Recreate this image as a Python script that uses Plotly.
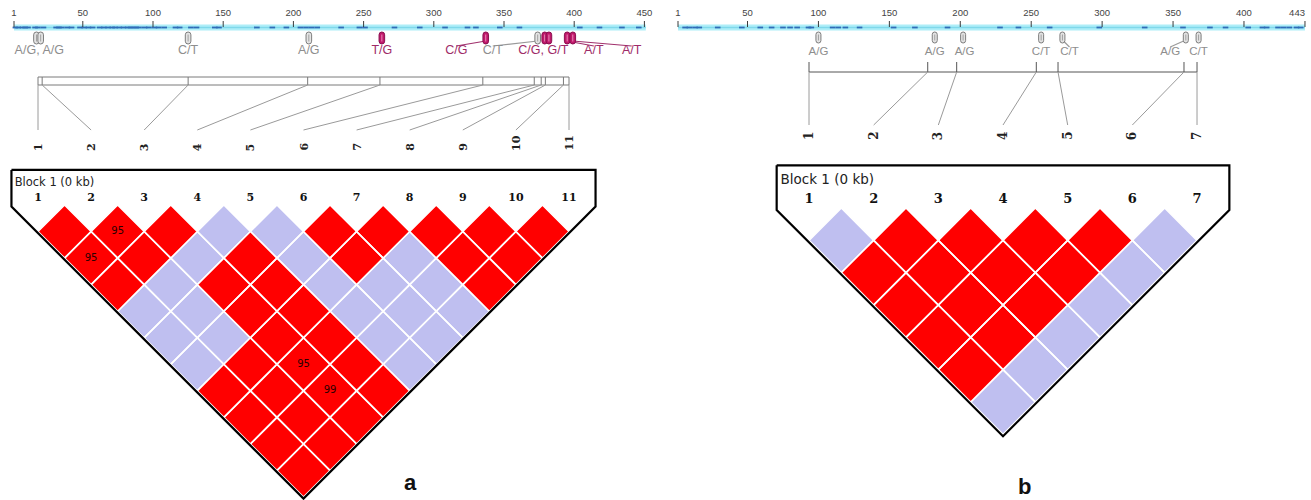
import plotly.graph_objects as go

W, H = 1311, 500

# ---------------- panel a: 11 SNPs ----------------
a_snp_bp = [17, 20, 125, 211, 263, 337, 374, 379, 382, 395, 399]
a_snp_kind = ["grey", "grey", "grey", "grey", "pink", "pink", "grey", "pink", "pink", "pink", "pink"]
a_allele_text = ["A/G, A/G", "C/T", "A/G", "T/G", "C/G", "C/T", "C/G, G/T", "A/T", "A/T"]
a_allele_kind = ["grey", "grey", "grey", "pink", "pink", "grey", "pink", "pink", "pink"]
a_allele_bp = [19, 125, 211, 263, 316, 342, 378, 414, 441]
a_allele_src = [None, None, None, None, 337, 374, None, 395, 399]
a_ruler_ticks = [1, 50, 100, 150, 200, 250, 300, 350, 400, 450]
a_ruler_end = 451
a_other_bp = [2, 4, 7, 9, 11, 16, 18, 22, 31, 33, 35, 39, 42, 48, 51, 54, 57, 62, 65, 68,
              71, 73, 76, 79, 82, 84, 86, 88, 90, 94, 97, 101, 104, 108, 116, 119, 127,
              131, 144, 147, 174, 185, 195, 205, 209, 213, 217, 234, 247, 251, 272, 290,
              308, 324, 330, 347, 361, 404, 418, 434, 446]
# 1 = strong LD (red), 0 = weak (lavender); row i holds pairs (i, i+1 .. n)
a_ld_strong = [
    [1, 1, 1, 0, 0, 0, 1, 1, 1, 1],
    [1, 1, 0, 0, 0, 1, 1, 1, 1],
    [1, 0, 1, 1, 1, 1, 1, 1],
    [0, 1, 1, 1, 1, 1, 1],
    [0, 0, 0, 0, 0, 0],
    [1, 1, 0, 0, 0],
    [1, 0, 0, 0],
    [1, 1, 1],
    [1, 1],
    [1],
]
a_dprime_pairs = [(1, 3), (2, 3), (3, 9), (3, 10)]
a_dprime_vals = [95, 95, 95, 99]

# ---------------- panel b: 7 SNPs ----------------
b_snp_bp = [100, 182, 202, 257, 272, 359, 368]
b_snp_kind = ["grey"] * 7
b_allele_text = ["A/G", "A/G", "A/G", "C/T", "C/T", "A/G", "C/T"]
b_allele_kind = ["grey"] * 7
b_allele_bp = [100, 182, 203, 257, 277, 348, 368]
b_allele_src = [None, None, None, None, 272, 359, None]
b_ruler_ticks = [1, 50, 100, 150, 200, 250, 300, 350, 400, 443]
b_ruler_end = 443
b_other_bp = [6, 9, 13, 16, 29, 46, 59, 67, 75, 80, 85, 93, 95, 110, 114, 119, 129, 153,
              168, 191, 228, 241, 263, 298, 330, 357, 376, 387, 403, 413, 416, 424, 428,
              432, 437, 440]
b_ld_strong = [
    [0, 1, 1, 1, 1, 0],
    [1, 1, 1, 1, 0],
    [1, 1, 1, 0],
    [1, 1, 0],
    [1, 0],
    [0],
]
b_dprime_pairs = []
b_dprime_vals = []

# ---------------- styling ----------------
RED = "#ff0000"
LAV = "#bfbff0"
GREY_TXT = "#8e8e8e"
PINK_TXT = "#9e2b68"
VARIANT_BLUE = "#2f6cb8"
GLYPH = {
    "grey": dict(fill="#e4e4e4", line="#7d7d7d", inner="#a0a0a0"),
    "pink": dict(fill="#c0186a", line="#8a1050", inner="#ec8dbb"),
}


def x_range(v, px, s):
    r0 = v - px / s
    return [r0, r0 + W / s]


def y_range(v, px, s):
    top = v - px / s
    return [top + H / s, top]


PANELS = [
    dict(name="a", n=11, snp_bp=a_snp_bp, snp_kind=a_snp_kind, allele_text=a_allele_text,
         allele_kind=a_allele_kind, allele_bp=a_allele_bp, allele_src=a_allele_src,
         ticks=a_ruler_ticks, ruler_end=a_ruler_end, other=a_other_bp, strong=a_ld_strong,
         dp_pairs=a_dprime_pairs, dp_vals=a_dprime_vals,
         xld="x", yld="y2", xr="x2",
         ld_x1=38, ld_step=53.1, ld_top=205, ruler_x1=14, ruler_scale=1.404,
         box=True, box_top=77, box_bot=85, conn_end=130, lab_bot=153,
         glyph_top=32, glyph_bot=44, glyph_w=2.8, allele_y=51, allele_size=12.5,
         num_size=11, rot_size=11, block_size=11.5, dp_size=10, letter_px=402, letter_y=482),
    dict(name="b", n=7, snp_bp=b_snp_bp, snp_kind=b_snp_kind, allele_text=b_allele_text,
         allele_kind=b_allele_kind, allele_bp=b_allele_bp, allele_src=b_allele_src,
         ticks=b_ruler_ticks, ruler_end=b_ruler_end, other=b_other_bp, strong=b_ld_strong,
         dp_pairs=b_dprime_pairs, dp_vals=b_dprime_vals,
         xld="x3", yld="y3", xr="x4",
         ld_x1=809, ld_step=64.67, ld_top=208, ruler_x1=678, ruler_scale=1.4185,
         box=False, box_top=62, box_bot=72, conn_end=125, lab_bot=142,
         glyph_top=32, glyph_bot=43, glyph_w=2.5, allele_y=52, allele_size=11.5,
         num_size=13, rot_size=12, block_size=13.5, dp_size=10, letter_px=1033, letter_y=486),
]

fig = go.Figure()
shapes = []
annotations = []

for p in PANELS:
    n = p["n"]
    xld, yld, xr = p["xld"], p["yld"], p["xr"]

    # ---- LD diamonds ----
    polys = {1: ([], []), 0: ([], [])}
    for i in range(1, n):
        for k, s in enumerate(p["strong"][i - 1]):
            j = i + 1 + k
            cx, cy = (i + j) / 2, (j - i) / 2
            xs, ys = polys[s]
            xs += [cx, cx + 0.5, cx, cx - 0.5, cx, None]
            ys += [cy - 0.5, cy, cy + 0.5, cy, cy - 0.5, None]
    for s, col in ((0, LAV), (1, RED)):
        xs, ys = polys[s]
        fig.add_trace(go.Scatter(x=xs, y=ys, mode="lines", fill="toself", fillcolor=col,
                                 line=dict(color="white", width=1.6),
                                 xaxis=xld, yaxis=yld, hoverinfo="skip"))

    # D' values inside diamonds
    if p["dp_pairs"]:
        fig.add_trace(go.Scatter(
            x=[(i + j) / 2 for i, j in p["dp_pairs"]],
            y=[(j - i) / 2 for i, j in p["dp_pairs"]],
            text=[str(v) for v in p["dp_vals"]], mode="text",
            textfont=dict(family="DejaVu Sans", size=p["dp_size"], color="#2a0000"),
            xaxis=xld, yaxis=yld, hoverinfo="skip"))

    # ---- block outline ----
    xl, xrr, top = 0.5, n + 0.5, -0.66
    off = 0.47
    apex_x, apex_y = (n + 1) / 2, (n + 1) / 2 - off
    fig.add_trace(go.Scatter(
        x=[xl, xrr, xrr, apex_x, xl, xl],
        y=[top, top, xl - off, apex_y, xl - off, top],
        mode="lines", line=dict(color="black", width=2.2),
        xaxis=xld, yaxis=yld, hoverinfo="skip"))

    # block title and marker numbers
    fig.add_trace(go.Scatter(
        x=[xl + 0.06], y=[-0.42], text=["Block 1 (0 kb)"], mode="text",
        textposition="middle right",
        textfont=dict(family="DejaVu Sans", size=p["block_size"], color="#222"),
        xaxis=xld, yaxis=yld, hoverinfo="skip"))
    fig.add_trace(go.Scatter(
        x=list(range(1, n + 1)), y=[-0.13] * n,
        text=[f"<b>{k}</b>" for k in range(1, n + 1)], mode="text",
        textfont=dict(family="DejaVu Serif", size=p["num_size"], color="#111"),
        xaxis=xld, yaxis=yld, hoverinfo="skip"))

    # ---- marker map (box / line) and connectors to rotated numbers ----
    bp = p["snp_bp"]
    pos = [1 + (b - bp[0]) / (bp[-1] - bp[0]) * (n - 1) for b in bp]
    lx, ly = [], []
    if p["box"]:
        for yy in (p["box_top"], p["box_bot"]):
            lx += [pos[0], pos[-1], None]
            ly += [yy, yy, None]
    else:
        lx += [pos[0], pos[-1], None]
        ly += [p["box_bot"], p["box_bot"], None]
    for q in pos:
        lx += [q, q, None]
        ly += [p["box_top"], p["box_bot"], None]
    fig.add_trace(go.Scatter(x=lx, y=ly, mode="lines",
                             line=dict(color="#7a7a7a" if p["box"] else "#555", width=1),
                             xaxis=xld, yaxis="y", hoverinfo="skip"))
    cx_, cy_ = [], []
    for k, q in enumerate(pos, start=1):
        cx_ += [q, k, None]
        cy_ += [p["box_bot"], p["conn_end"], None]
    fig.add_trace(go.Scatter(x=cx_, y=cy_, mode="lines",
                             line=dict(color="#9a9a9a", width=1),
                             xaxis=xld, yaxis="y", hoverinfo="skip"))
    for k in range(1, n + 1):
        annotations.append(dict(
            x=k, y=p["lab_bot"], xref=xld, yref="y", text=f"<b>{k}</b>",
            textangle=-90, showarrow=False, xanchor="center", yanchor="bottom",
            font=dict(family="DejaVu Serif", size=p["rot_size"], color="#222")))

    # ---- position ruler ----
    shapes.append(dict(type="rect", xref=xr, yref="y", x0=1, x1=p["ruler_end"], y0=24.5, y1=30.5,
                       fillcolor="#aeeef8", line=dict(width=0), layer="below"))
    shapes.append(dict(type="line", xref=xr, yref="y", x0=1, x1=p["ruler_end"], y0=27.5,
                       y1=27.5, line=dict(color="#7fd8ea", width=1.5), layer="below"))
    fig.add_trace(go.Scatter(
        x=p["other"], y=[27.5] * len(p["other"]), mode="markers",
        marker=dict(symbol="line-ew-open", size=4, color=VARIANT_BLUE,
                    line=dict(color=VARIANT_BLUE, width=1.8)),
        xaxis=xr, yaxis="y", hoverinfo="skip"))
    tx, ty = [], []
    for t in p["ticks"]:
        tx += [t, t, None]
        ty += [21, 27, None]
    fig.add_trace(go.Scatter(x=tx, y=ty, mode="lines", line=dict(color="#3a3a3a", width=1),
                             xaxis=xr, yaxis="y", hoverinfo="skip"))
    tick_pos = ["middle left" if p["ruler_x1"] + (t - 1) * p["ruler_scale"] + 9 > W
                else "middle center" for t in p["ticks"]]
    fig.add_trace(go.Scatter(
        x=p["ticks"], y=[14] * len(p["ticks"]), text=[str(t) for t in p["ticks"]],
        mode="text", textposition=tick_pos,
        textfont=dict(family="Liberation Sans", size=9.5, color="#444"),
        xaxis=xr, yaxis="y", hoverinfo="skip"))

    # SNP glyphs
    t0, b0, w = p["glyph_top"], p["glyph_bot"], p["glyph_w"]
    r = w
    cap = (f"M {-w},{t0 + r} Q {-w},{t0} 0,{t0} Q {w},{t0} {w},{t0 + r} "
           f"L {w},{b0 - r} Q {w},{b0} 0,{b0} Q {-w},{b0} {-w},{b0 - r} Z")
    for b, kind in zip(bp, p["snp_kind"]):
        g = GLYPH[kind]
        shapes.append(dict(type="path", xref=xr, yref="y", xsizemode="pixel", xanchor=b,
                           path=cap, fillcolor=g["fill"], line=dict(color=g["line"], width=1)))
        shapes.append(dict(type="path", xref=xr, yref="y", xsizemode="pixel", xanchor=b,
                           path=f"M 0,{t0 + 2.5} L 0,{b0 - 2.5}",
                           line=dict(color=g["inner"], width=1)))

    # allele labels and leader lines
    kx = {"grey": [], "pink": []}
    ky = {"grey": [], "pink": []}
    for src, dst, kind in zip(p["allele_src"], p["allele_bp"], p["allele_kind"]):
        if src is None:
            continue
        kx[kind] += [src, dst, None]
        ky[kind] += [b0 - 3, p["allele_y"] - 5, None]
    for kind, col in (("grey", "#9a9a9a"), ("pink", "#a0306c")):
        if kx[kind]:
            fig.add_trace(go.Scatter(x=kx[kind], y=ky[kind], mode="lines",
                                     line=dict(color=col, width=1.2),
                                     xaxis=xr, yaxis="y", hoverinfo="skip"))
    fig.add_trace(go.Scatter(
        x=p["allele_bp"], y=[p["allele_y"]] * len(p["allele_bp"]), text=p["allele_text"],
        mode="text",
        textfont=dict(family="Liberation Sans", size=p["allele_size"],
                      color=[GREY_TXT if k == "grey" else PINK_TXT for k in p["allele_kind"]]),
        xaxis=xr, yaxis="y", hoverinfo="skip"))

    # panel letter
    annotations.append(dict(x=p["letter_px"] / W, y=p["letter_y"], xref="paper", yref="y",
                            text=f"<b>{p['name']}</b>", showarrow=False,
                            font=dict(family="Liberation Sans", size=22, color="#111")))

axis_common = dict(visible=False, showgrid=False, zeroline=False, fixedrange=True,
                   domain=[0, 1])
fig.update_layout(
    width=W, height=H, autosize=False,
    margin=dict(l=0, r=0, t=0, b=0, pad=0),
    paper_bgcolor="white", plot_bgcolor="rgba(0,0,0,0)",
    showlegend=False, hovermode=False,
    xaxis=dict(range=x_range(1, PANELS[0]["ld_x1"], PANELS[0]["ld_step"]), anchor="y", **axis_common),
    xaxis2=dict(range=x_range(1, PANELS[0]["ruler_x1"], PANELS[0]["ruler_scale"]), anchor="y", **axis_common),
    xaxis3=dict(range=x_range(1, PANELS[1]["ld_x1"], PANELS[1]["ld_step"]), anchor="y", **axis_common),
    xaxis4=dict(range=x_range(1, PANELS[1]["ruler_x1"], PANELS[1]["ruler_scale"]), anchor="y", **axis_common),
    yaxis=dict(range=[H, 0], anchor="x", **axis_common),
    yaxis2=dict(range=y_range(0, PANELS[0]["ld_top"], PANELS[0]["ld_step"]), anchor="x", **axis_common),
    yaxis3=dict(range=y_range(0, PANELS[1]["ld_top"], PANELS[1]["ld_step"]), anchor="x3", **axis_common),
    shapes=shapes, annotations=annotations,
)

fig.write_html("out.html")
